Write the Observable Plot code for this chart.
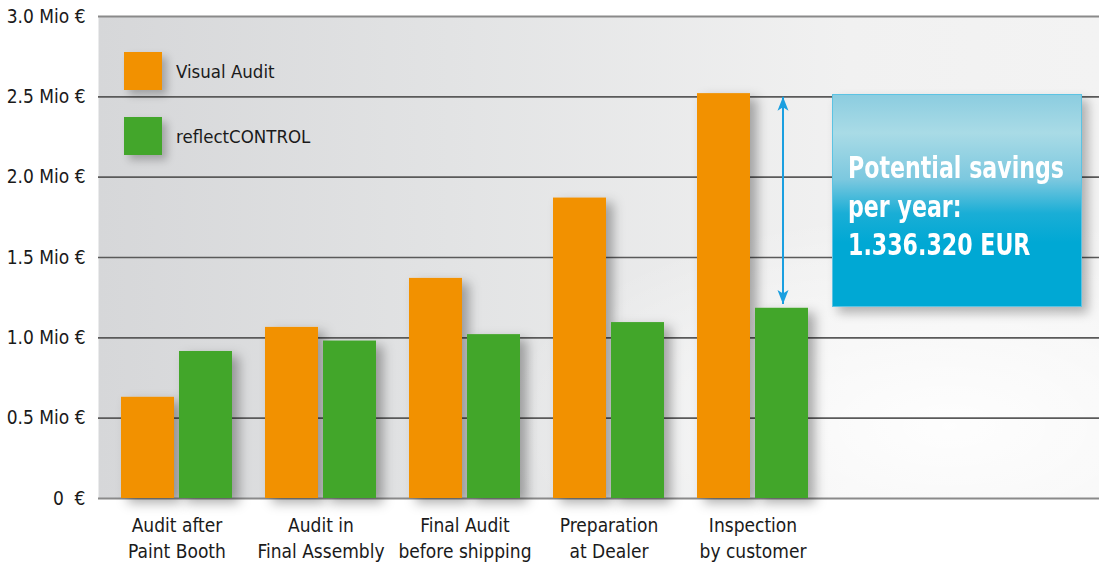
<!DOCTYPE html>
<html>
<head>
<meta charset="utf-8">
<script src="https://cdn.jsdelivr.net/npm/d3@7"></script>
<script src="https://cdn.jsdelivr.net/npm/@observablehq/plot@0.6"></script>
<style>
  html, body { margin: 0; padding: 0; background: #ffffff; }
  #wrap { position: relative; width: 1099px; height: 566px; overflow: hidden;
    font-family: "DejaVu Sans Condensed", "Liberation Sans Narrow", "Roboto", sans-serif; color: #1a1a1a; }
  .legend-item { position: absolute; left: 124px; display: flex; align-items: center; font-size: 18.5px; }
  .swatch { width: 38px; height: 38px; margin-right: 14px; box-shadow: 5px 5px 8px rgba(0,0,0,0.25); }
  #callout { position: absolute; left: 832px; top: 94px; width: 248px; height: 211px;
    border: 1px solid #5cc3e3;
    background: linear-gradient(180deg, #8ccde0 0%, #a9dbe6 18%, #7cc8df 40%, #1aaed6 56%, #00a8d4 70%, #00a8d4 100%);
    box-shadow: 6px 6px 10px rgba(0,0,0,0.28);
    color: #ffffff; font-weight: bold; font-size: 31px; line-height: 38.5px; }
  #callout .txt { position: absolute; left: 15px; top: 53px; white-space: nowrap; transform-origin: 0 0; }
</style>
</head>
<body>
<div id="wrap"></div>
<script>
// ---- data ----
const categories = [
  "Audit after\nPaint Booth",
  "Audit in\nFinal Assembly",
  "Final Audit\nbefore shipping",
  "Preparation\nat Dealer",
  "Inspection\nby customer"
];
const visualAudit    = [0.63, 1.065, 1.37, 1.87, 2.52];
const reflectControl = [0.915, 0.98, 1.02, 1.095, 1.184];
const seriesNames = ["Visual Audit", "reflectCONTROL"];
const seriesColors = ["#f29100", "#43a62b"];
const yTicks = [0, 0.5, 1, 1.5, 2, 2.5, 3];
const yTickLabels = ["0\u00a0\u00a0€", "0.5 Mio €", "1.0 Mio €", "1.5 Mio €", "2.0 Mio €", "2.5 Mio €", "3.0 Mio €"];
const savingsLines = ["Potential savings", "per year:", "1.336.320 EUR"];
const savingsArrow = [2.5, 1.21]; // span of the double-headed arrow

const rows = categories.flatMap((c, i) => [
  {category: c, series: seriesNames[0], value: visualAudit[i]},
  {category: c, series: seriesNames[1], value: reflectControl[i]}
]);
const last = categories[categories.length - 1];
const arrowData = [{category: last, top: savingsArrow[0], bottom: savingsArrow[1]}];

const fontFamily = '"DejaVu Sans Condensed", "Liberation Sans Narrow", "Roboto", sans-serif';

const chart = Plot.plot({
  width: 1099,
  height: 566,
  marginLeft: 98,
  marginRight: 0,
  marginTop: 16,
  marginBottom: 68,
  style: {fontFamily, fontSize: "19px", color: "#1a1a1a", background: "transparent", overflow: "visible"},
  x: {domain: categories, range: [103, 826], paddingInner: 0.231, paddingOuter: 0.118, axis: null, label: null},
  y: {domain: [0, 3], axis: null, label: null},
  marks: [
    Plot.frame({fill: "url(#bgGrad)", stroke: null}),
    Plot.frame({fill: "url(#bgRad)", stroke: null}),
    Plot.ruleY(yTicks.filter(t => t > 0 && t < 3), {stroke: "#5a5a5a", strokeWidth: 1.6}),
    Plot.ruleY([0, 3], {stroke: "#8a8a8a", strokeWidth: 2.2}),
    Plot.barY(rows.filter(d => d.series === seriesNames[0]), {x: "category", y: "value", fill: seriesColors[0], insetRight: 58}),
    Plot.barY(rows.filter(d => d.series === seriesNames[1]), {x: "category", y: "value", fill: seriesColors[1], insetLeft: 58}),
    Plot.link(arrowData, {x1: "category", x2: "category", y1: "top", y2: "bottom",
      stroke: "#1a9fe0", strokeWidth: 2, dx: 30}),
    Plot.axisY(yTicks, {tickFormat: (d, i) => yTickLabels[i], tickSize: 0, tickPadding: 13, fontSize: 19, fill: "#1a1a1a", label: null}),
    Plot.axisX({tickSize: 0, tickPadding: 15, fontSize: 19, lineHeight: 1.37, fill: "#1a1a1a", label: null})
  ]
});

// gradients, shadow and arrow heads
const svg = d3.select(chart);
const defs = svg.insert("defs", ":first-child");
const lg = defs.append("linearGradient").attr("id", "bgGrad").attr("x1", "0").attr("x2", "1").attr("y1", "0").attr("y2", "0");
lg.append("stop").attr("offset", "0").attr("stop-color", "#d6d7d9");
lg.append("stop").attr("offset", "0.35").attr("stop-color", "#e2e3e4");
lg.append("stop").attr("offset", "0.75").attr("stop-color", "#f1f1f1");
lg.append("stop").attr("offset", "1").attr("stop-color", "#f3f3f3");
const rg = defs.append("radialGradient").attr("id", "bgRad").attr("cx", "0.85").attr("cy", "0.85").attr("r", "0.45");
rg.append("stop").attr("offset", "0").attr("stop-color", "#ffffff").attr("stop-opacity", 0.9);
rg.append("stop").attr("offset", "1").attr("stop-color", "#ffffff").attr("stop-opacity", 0);
const f = defs.append("filter").attr("id", "shadow").attr("x", "-20%").attr("y", "-20%").attr("width", "160%").attr("height", "140%");
f.append("feDropShadow").attr("dx", 7).attr("dy", 5).attr("stdDeviation", 6).attr("flood-color", "#000").attr("flood-opacity", 0.32);
svg.selectAll('g[aria-label="bar"]').attr("filter", "url(#shadow)");
const mk = defs.append("marker").attr("id", "ah")
  .attr("viewBox", "0 0 14 12").attr("markerUnits", "userSpaceOnUse")
  .attr("markerWidth", 14).attr("markerHeight", 12)
  .attr("refX", 14).attr("refY", 6).attr("orient", "auto-start-reverse");
mk.append("path").attr("d", "M0,0.5 L14,6 L0,11.5 L3.5,6 Z").attr("fill", "#1a9fe0");
svg.selectAll('g[aria-label="link"] path')
  .attr("marker-start", "url(#ah)").attr("marker-end", "url(#ah)");

const wrap = document.getElementById("wrap");
wrap.appendChild(chart);

// legend
seriesNames.forEach((name, i) => {
  const item = document.createElement("div");
  item.className = "legend-item";
  item.style.top = (52 + i * 65) + "px";
  const sw = document.createElement("div");
  sw.className = "swatch";
  sw.style.background = seriesColors[i];
  const lab = document.createElement("span");
  lab.textContent = name;
  item.appendChild(sw);
  item.appendChild(lab);
  wrap.appendChild(item);
});

// callout
const callout = document.createElement("div");
callout.id = "callout";
const txt = document.createElement("div");
txt.className = "txt";
txt.innerHTML = savingsLines.join("<br>");
callout.appendChild(txt);
wrap.appendChild(callout);
const w = txt.getBoundingClientRect().width;
txt.style.transform = `scaleX(${Math.min(1, 216 / w)})`;
</script>
</body>
</html>
